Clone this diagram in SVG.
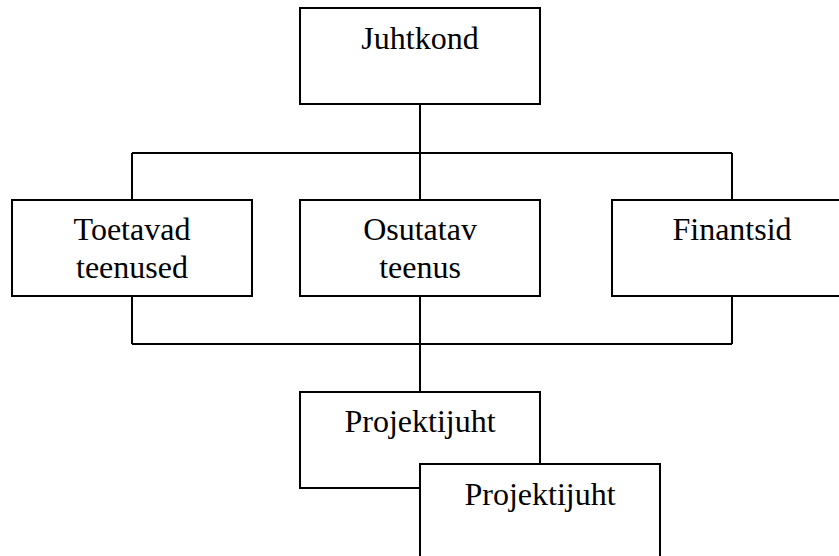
<svg xmlns="http://www.w3.org/2000/svg" width="839" height="556" viewBox="0 0 839 556">
<style>
.box{fill:#fff;stroke:#000;stroke-width:2}
.ln{fill:none;stroke:#000;stroke-width:2}
text{font-family:"Liberation Serif","Times New Roman",serif;font-size:32px;fill:#000;text-anchor:middle}
</style>
<rect width="839" height="556" fill="#fff"/>
<g id="connectors">
<path class="ln" d="M420 104V153M132 153H732M132 153V200M420 153V200M732 153V200"/>
<path class="ln" d="M132 296V344M420 296V392M732 296V344M132 344H732"/>
</g>
<g id="juhtkond"><rect class="box" x="300" y="8" width="240" height="96"/><text x="420" y="49">Juhtkond</text></g>
<g id="toetavad"><rect class="box" x="12" y="200" width="240" height="96"/><text x="132" y="240">Toetavad</text><text x="132" y="278">teenused</text></g>
<g id="osutatav"><rect class="box" x="300" y="200" width="240" height="96"/><text x="420" y="240">Osutatav</text><text x="420" y="278">teenus</text></g>
<g id="finantsid"><rect class="box" x="612" y="200" width="240" height="96"/><text x="732" y="240">Finantsid</text></g>
<g id="projektijuht1"><rect class="box" x="300" y="392" width="240" height="96"/><text x="420" y="432">Projektijuht</text></g>
<g id="projektijuht2"><rect class="box" x="420" y="464" width="240" height="96"/><text x="540" y="505">Projektijuht</text></g>
</svg>
